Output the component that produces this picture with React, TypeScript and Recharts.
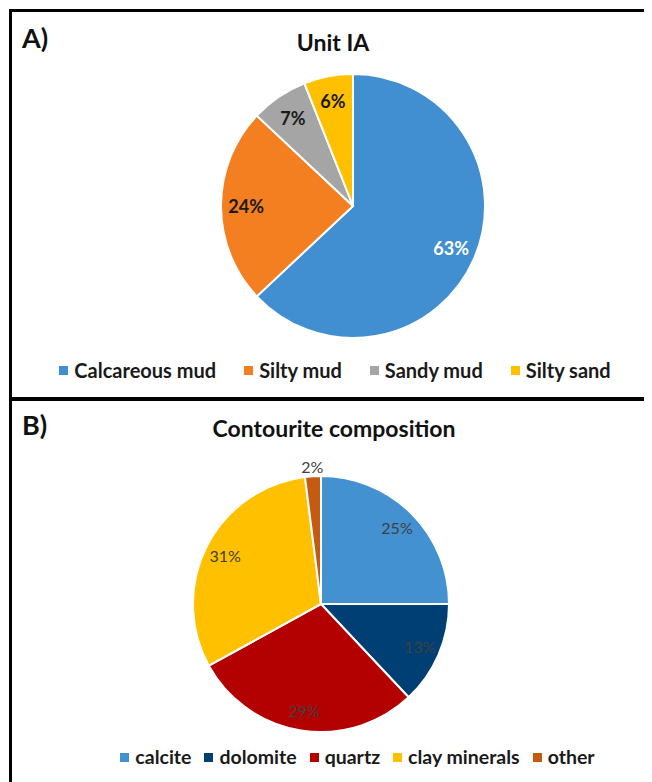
import React from 'react';
import { PieChart, Pie, Cell, Legend } from 'recharts';

const unitCategories = ['Calcareous mud', 'Silty mud', 'Sandy mud', 'Silty sand'];
const unitValues = [63, 24, 7, 6];
const unitColors = ['#418FD0', '#F47F20', '#A5A5A5', '#FFC000'];
const unitLabelColors = ['#FFFFFF', '#1A1A1A', '#1A1A1A', '#1A1A1A'];

const compCategories = ['calcite', 'dolomite', 'quartz', 'clay minerals', 'other'];
const compValues = [25, 13, 29, 31, 2];
const compColors = ['#4391D1', '#003F73', '#B30000', '#FFC000', '#C55A11'];

const unitData = unitCategories.map((name, i) => ({ name, value: unitValues[i] }));
const compData = compCategories.map((name, i) => ({ name, value: compValues[i] }));

const FONT = 'Lato, "Open Sans", sans-serif';
const RAD = Math.PI / 180;

const makeLegend = (names: string[], colors: string[], fontSize: number, gap: number) => () => (
  <div style={{ display: 'flex', justifyContent: 'center', alignItems: 'center', fontFamily: FONT, fontWeight: 700, fontSize, color: '#1A1A1A', lineHeight: '24px' }}>
    {names.map((n, i) => (
      <div key={n} style={{ display: 'flex', alignItems: 'center', marginLeft: i === 0 ? 0 : gap }}>
        <span style={{ display: 'inline-block', width: 9, height: 9, background: colors[i], marginRight: 6 }} />
        <span>{n}</span>
      </div>
    ))}
  </div>
);

const unitLabel = (props: any) => {
  const { cx, cy, midAngle, outerRadius, index, value } = props;
  const r = outerRadius * 0.81;
  const x = cx + r * Math.cos(-midAngle * RAD);
  const y = cy + r * Math.sin(-midAngle * RAD);
  return (
    <text x={x} y={y} fill={unitLabelColors[index]} textAnchor="middle" dominantBaseline="central" fontFamily={FONT} fontWeight={700} fontSize={18}>
      {`${value}%`}
    </text>
  );
};

const compLabel = (props: any) => {
  const { cx, cy, midAngle, outerRadius, value } = props;
  const outside = value < 5;
  const r = outside ? outerRadius + 10 : outerRadius * 0.84;
  const x = cx + r * Math.cos(-midAngle * RAD);
  const y = cy + r * Math.sin(-midAngle * RAD);
  return (
    <text x={x} y={y} fill="#404040" textAnchor="middle" dominantBaseline="central" fontFamily={FONT} fontWeight={400} fontSize={16}>
      {`${value}%`}
    </text>
  );
};

export default function App() {
  return (
    <div style={{ position: 'relative', width: 644, height: 774, overflow: 'hidden', background: '#fff' }}>
      <style>{`body{overflow:hidden;}`}</style>
      <div style={{ position: 'absolute', left: 1, top: 1, width: 700, height: 3, background: '#000' }} />
      <div style={{ position: 'absolute', left: 1, top: 1, width: 3, height: 800, background: '#000' }} />
      <div style={{ position: 'absolute', left: 1, top: 389, width: 700, height: 4, background: '#000' }} />

      {/* Panel A */}
      <div style={{ position: 'absolute', left: 0, top: 0 }}>
        <PieChart width={644} height={388} margin={{ top: 0, right: 0, bottom: 0, left: 0 }}>
          <Pie
            data={unitData}
            dataKey="value"
            nameKey="name"
            cx={345}
            cy={198}
            outerRadius={132}
            startAngle={90}
            endAngle={-270}
            stroke="#FFFFFF"
            strokeWidth={2}
            label={unitLabel}
            labelLine={false}
            isAnimationActive={false}
          >
            {unitData.map((d, i) => (
              <Cell key={d.name} fill={unitColors[i]} />
            ))}
          </Pie>
          <Legend content={makeLegend(unitCategories, unitColors, 20, 28)} wrapperStyle={{ left: 10, top: 350, width: 634, height: 24 }} />
        </PieChart>
      </div>
      <div style={{ position: 'absolute', left: 14, top: 15, fontFamily: FONT, fontWeight: 700, fontSize: 27, lineHeight: '30px', color: '#111' }}>A)</div>
      <div style={{ position: 'absolute', left: 225, width: 200, top: 20, textAlign: 'center', fontFamily: FONT, fontWeight: 700, fontSize: 23, lineHeight: '28px', color: '#111' }}>Unit IA</div>

      {/* Panel B */}
      <div style={{ position: 'absolute', left: 0, top: 393 }}>
        <PieChart width={644} height={381} margin={{ top: 0, right: 0, bottom: 0, left: 0 }}>
          <Pie
            data={compData}
            dataKey="value"
            nameKey="name"
            cx={313}
            cy={203}
            outerRadius={128}
            startAngle={90}
            endAngle={-270}
            stroke="#FFFFFF"
            strokeWidth={2}
            label={compLabel}
            labelLine={false}
            isAnimationActive={false}
          >
            {compData.map((d, i) => (
              <Cell key={d.name} fill={compColors[i]} />
            ))}
          </Pie>
          <Legend content={makeLegend(compCategories, compColors, 19.5, 13)} wrapperStyle={{ left: 0, top: 344, width: 699, height: 24 }} />
        </PieChart>
      </div>
      <div style={{ position: 'absolute', left: 14, top: 402, fontFamily: FONT, fontWeight: 700, fontSize: 27, lineHeight: '30px', color: '#111' }}>B)</div>
      <div style={{ position: 'absolute', left: 126, width: 400, top: 406, textAlign: 'center', fontFamily: FONT, fontWeight: 700, fontSize: 23, lineHeight: '28px', color: '#111' }}>Contourite composition</div>
    </div>
  );
}
